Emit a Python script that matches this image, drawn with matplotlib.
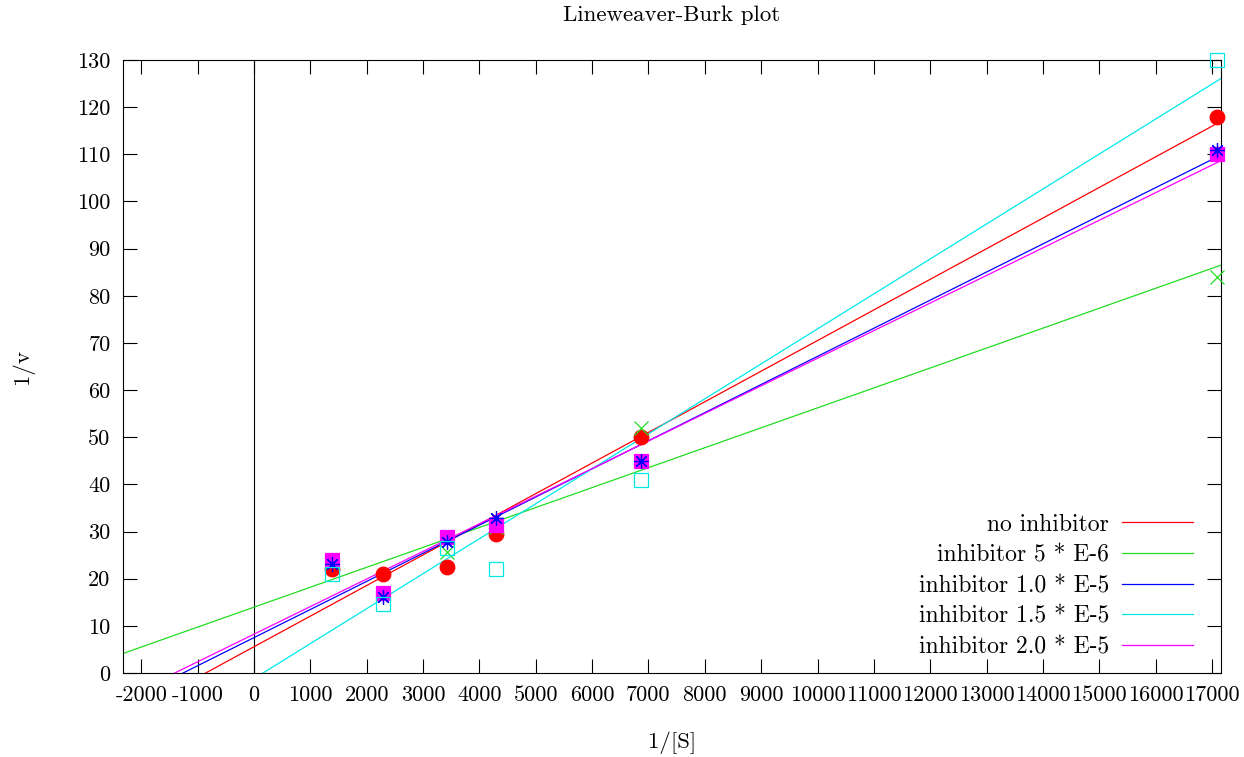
import numpy as np
import matplotlib.pyplot as plt

plt.rcParams['font.family'] = ['cmr10', 'DejaVu Serif']
plt.rcParams['axes.unicode_minus'] = False
plt.rcParams['mathtext.fontset'] = 'cm'

# 1/[S] values (shared by all series)
inv_s = [1385, 2290, 3425, 4295, 6870, 17090]

# 1/v values for each inhibitor concentration
v_none = [22.0, 21.0, 22.5, 29.5, 50.0, 118.0]
v_5e6 = [23.5, 17.0, 25.7, 31.0, 52.0, 84.0]
v_1e5 = [23.1, 16.1, 27.8, 32.9, 45.0, 111.0]
v_15e5 = [21.0, 14.6, 26.5, 22.0, 41.0, 130.0]
v_2e5 = [24.0, 17.0, 28.9, 31.4, 45.0, 110.0]

labels = ['no inhibitor', 'inhibitor 5 * E-6', 'inhibitor 1.0 * E-5',
          'inhibitor 1.5 * E-5', 'inhibitor 2.0 * E-5']
colors = ['#ff0000', '#22dd22', '#0000ff', '#00e8e8', '#ff00ff']
markers = ['o', 'x', (8, 2, 0), 's', 's']
fills = [True, False, False, False, True]
zorders = [3, 4, 6, 7, 5]
series = [v_none, v_5e6, v_1e5, v_15e5, v_2e5]

xmin, xmax = -2325, 17160

fig = plt.figure(figsize=(12.44, 7.57), dpi=100)
ax = fig.add_axes([0.0989, 0.111, 0.9815 - 0.0989, 0.9207 - 0.111])

x = np.array(inv_s, dtype=float)
xx = np.linspace(xmin, xmax, 200)
for y, lab, c, m, f, z in zip(series, labels, colors, markers, fills, zorders):
    y = np.array(y)
    # linear fit of the Lineweaver-Burk data
    k, b = np.polyfit(x, y, 1)
    ax.plot(xx, k * xx + b, color=c, linewidth=0.9, label=lab, zorder=2)
    ax.plot(x, y, linestyle='none', marker=m, markersize=10.5,
            color=c, markerfacecolor=c if f else 'none',
            markeredgewidth=0.9, zorder=z, clip_on=False)

ax.axvline(0, color='black', linewidth=0.8, zorder=1)

ax.set_xlim(xmin, xmax)
ax.set_ylim(0, 130)
ax.set_xticks(np.arange(-2000, 17001, 1000))
ax.set_yticks(np.arange(0, 131, 10))
ax.tick_params(direction='in', length=10, width=0.8, top=True, right=True,
               labelsize=16, pad=9, colors='black')
for s in ax.spines.values():
    s.set_linewidth(0.8)

ax.set_title('Lineweaver-Burk plot', fontsize=16.5, pad=28)
ax.set_xlabel('1/[S]', fontsize=16.5, labelpad=19)
ax.set_ylabel('1/v', fontsize=16.5, labelpad=31)

ax.legend(loc='lower right', bbox_to_anchor=(0.9745, 0.024), frameon=False,
          markerfirst=False, fontsize=17, handlelength=3.0,
          labelspacing=0.36, borderpad=0, borderaxespad=0, handletextpad=0.55)

fig.savefig('out.png', dpi=100)
